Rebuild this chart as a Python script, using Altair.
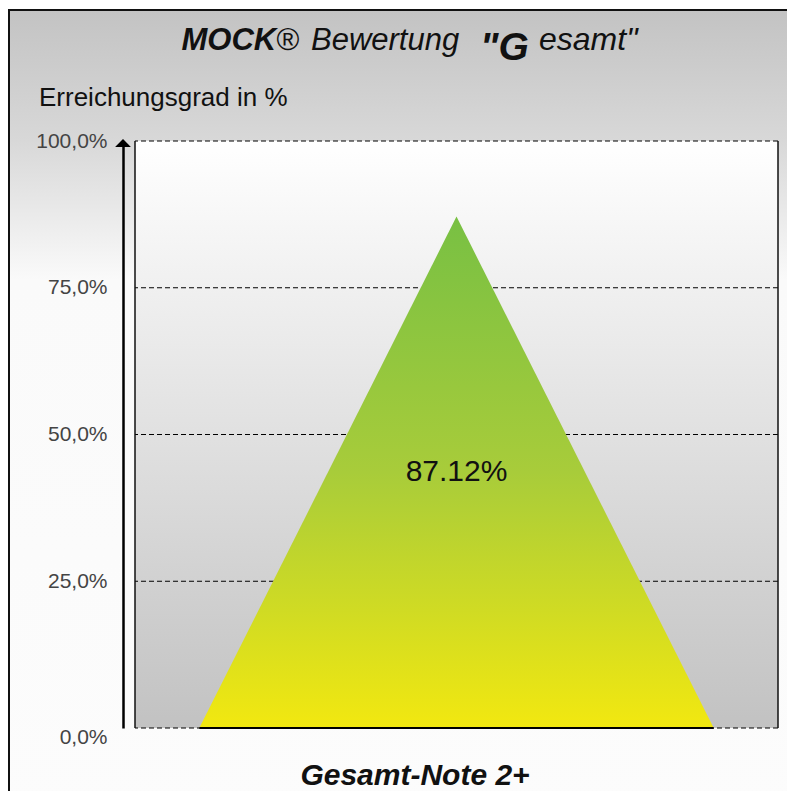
import altair as alt
import pandas as pd

# ---- data ----
TITLE_PARTS = ["MOCK", "®", "Bewertung", "\"G", "esamt\""]
Y_TITLE = "Erreichungsgrad in %"
X_LABEL = "Gesamt-Note 2+"
SCORE = 87.12
SCORE_LABEL = "87.12%"
Y_TICKS = [0, 25, 50, 75, 100]
TRI_X = [0.1, 0.5, 0.9]          # pyramid base-left, apex, base-right (share of plot width)
TRI_Y = [0.0, SCORE, 0.0]
BASE_X = [0.1]
BASE_X2 = [0.9]

W, H = 643, 587
FONT = "Liberation Sans"

tri = pd.DataFrame({"x": TRI_X, "y": TRI_Y})
grid = pd.DataFrame({"y": Y_TICKS})
lab = pd.DataFrame({"x": [0.5], "y": [SCORE / 2], "t": [SCORE_LABEL]})
base = pd.DataFrame({"x": BASE_X, "x2": BASE_X2, "y": [0.0]})
one = pd.DataFrame({"a": [0]})

xs = alt.Scale(domain=[0, 1], nice=False, zero=False)
ys = alt.Scale(domain=[0, 100], nice=False)

YAX = alt.Axis(
    values=Y_TICKS,
    labelExpr="replace(format(datum.value, '.1f'), '.', ',') + '%'",
    offset=12, domainColor="black", domainWidth=2.5,
    ticks=False, labelPadding=16, labelFontSize=21,
    labelColor="#444444", labelFont=FONT, grid=False, title=None,
    labelFlush=False, labelOverlap=False, labelAlign="right", labelBaseline="middle",
    labelOffset={"condition": {"test": "datum.value == 0", "value": 9}, "value": 0},
    zindex=1,
)


def Y(field="y:Q"):
    return alt.Y(field, scale=ys, axis=YAX)


def vgrad(stops):
    return alt.Gradient(
        gradient="linear",
        stops=[alt.GradientStop(color=c, offset=o) for o, c in stops],
        x1=0, x2=0, y1=0, y2=1,
    )


frame = alt.Chart(one).mark_rect(
    fill=vgrad([(0, "#c3c3c3"), (0.16, "#d8d8d8"), (0.33, "#fafafa"), (1, "#fcfcfc")]),
    stroke="#111111", strokeWidth=2,
).encode(x=alt.value(-126), x2=alt.value(W + 60), y=alt.value(-131), y2=alt.value(H + 100))

plot_bg = alt.Chart(one).mark_rect(
    fill=vgrad([(0, "#ffffff"), (1, "#c2c2c2")]),
).encode(x=alt.value(0), x2=alt.value(W), y=alt.value(0), y2=alt.value(H))

grid_rules = alt.Chart(grid).mark_rule(
    strokeDash=[5, 3], color="#000000", strokeWidth=1
).encode(y=Y())

pyramid = alt.Chart(tri).mark_area(
    color=vgrad([(0, "#78c043"), (0.5, "#a8cc3a"), (1, "#f2e810")]),
    interpolate="linear",
).encode(
    x=alt.X("x:Q", scale=xs, axis=None),
    y=Y(),
)

base_rule = alt.Chart(base).mark_rule(color="black", strokeWidth=2).encode(
    x=alt.X("x:Q", scale=xs, axis=None), x2="x2:Q", y=Y()
)

left_border = alt.Chart(one).mark_rule(color="#111111", strokeWidth=1.5).encode(
    x=alt.value(0), y=alt.value(0), y2=alt.value(H)
)
right_border = alt.Chart(one).mark_rule(color="#111111", strokeWidth=1.5).encode(
    x=alt.value(W), y=alt.value(0), y2=alt.value(H)
)

arrow = alt.Chart(one).mark_point(
    shape="M-1,0.5L0,-0.5L1,0.5Z", filled=True, color="black", size=250, opacity=1
).encode(x=alt.value(-12), y=alt.value(2))

score_text = alt.Chart(lab).mark_text(
    font=FONT, fontSize=30, color="#111111", align="center", baseline="middle"
).encode(x=alt.X("x:Q", scale=xs, axis=None), y=Y(), text="t:N")


def txt(s, x, y, size, weight="normal", style="normal", align="left", color="#111111"):
    return alt.Chart(pd.DataFrame({"t": [s]})).mark_text(
        font=FONT, fontSize=size, fontWeight=weight, fontStyle=style,
        align=align, baseline="alphabetic", color=color,
    ).encode(text="t:N", x=alt.value(x), y=alt.value(y))


title_layers = [
    txt(TITLE_PARTS[0], 46.5, -91, 31, "bold", "italic"),
    txt(TITLE_PARTS[1], 141.5, -91, 31, "normal", "normal"),
    txt(TITLE_PARTS[2], 176, -91, 31, "normal", "italic"),
    txt(TITLE_PARTS[3], 345, -81, 39, "bold", "italic"),
    txt(TITLE_PARTS[4], 404, -91, 32, "normal", "italic"),
]
ytitle = txt(Y_TITLE, -96, -35, 26)
xlabel = txt(X_LABEL, 280, 644, 30, "bold", "italic", align="center")

chart = alt.layer(
    frame, plot_bg, grid_rules, pyramid, base_rule, left_border, right_border,
    arrow, score_text, ytitle, xlabel, *title_layers,
).properties(
    width=W, height=H,
    padding={"left": 127, "top": 133, "right": 9, "bottom": 63},
    autosize=alt.AutoSizeParams(type="none"),
).configure_view(stroke=None).configure(background="#ffffff")

chart.save("out.html", embed_options={"renderer": "svg", "actions": False})
